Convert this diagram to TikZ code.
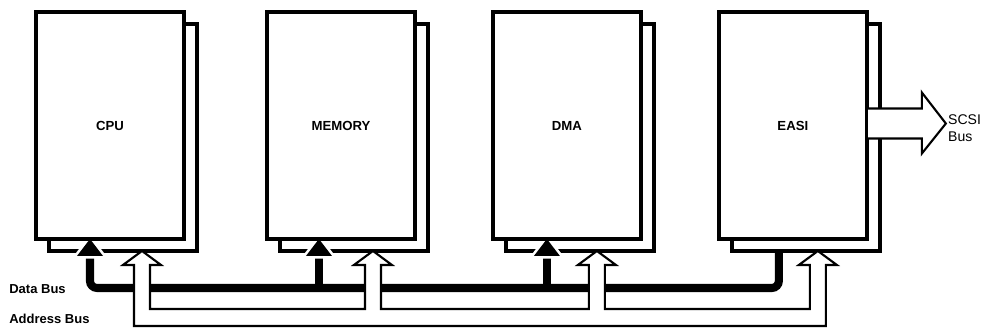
\documentclass[tikz,border=0pt]{standalone}
\usepackage{fontspec}
\setmainfont{Liberation Sans}
\usetikzlibrary{positioning,calc}

\begin{document}
\begin{tikzpicture}[
  x=0.02cm, y=-0.02cm,
  node distance=1.56cm,
  unit/.style={rectangle, draw, fill=white, line width=1.9pt, minimum width=2.96cm, minimum height=4.54cm, inner sep=0pt, outer sep=0pt, font=\fontsize{7.5}{9}\selectfont\bfseries},
  databus/.style={line width=4.6pt, rounded corners=4pt},
  dhead/.style={fill=black, preaction={draw=white, line width=3pt}},
  addrbus/.style={draw, fill=white, line width=1.2pt, line join=miter},
  buslabel/.style={anchor=west, inner sep=0pt, font=\fontsize{7.4}{9}\selectfont\bfseries},
  scsilabel/.style={anchor=west, inner sep=0pt, align=left, font=\fontsize{8}{9.6}\selectfont}
]
  \useasboundingbox (0,0) rectangle (981,328);

  % rear boards
  \node[unit] (cpuB) at (123,137.5) {};
  \node[unit, right=1.66cm of cpuB] (memB) {};
  \node[unit, right=of memB] (dmaB) {};
  \node[unit, right=of dmaB] (easiB) {};

  % bus taps
  \coordinate (d1) at ($(cpuB.south)+(-33,-12)$);
  \coordinate (d2) at ($(memB.south)+(-35,-12)$);
  \coordinate (d3) at ($(dmaB.south)+(-33,-12)$);
  \coordinate (d4) at ($(easiB.south)+(-27,0)$);
  \coordinate (a1) at ($(cpuB.south)+(19,0)$);
  \coordinate (a2) at ($(memB.south)+(19,0)$);
  \coordinate (a3) at ($(dmaB.south)+(17,0)$);
  \coordinate (a4) at ($(easiB.south)+(12,0)$);

  % data bus
  \draw[databus] ($(d1)+(0,16)$) |- ($(d4)+(0,37)$) -- (d4);
  \draw[databus] ($(d2)+(0,16)$) -- ++(0,34);
  \draw[databus] ($(d3)+(0,16)$) -- ++(0,34);
  \fill[dhead] (d1) -- ++(-13,17) -- ++(26,0) -- cycle;
  \fill[dhead] (d2) -- ++(-13,17) -- ++(26,0) -- cycle;
  \fill[dhead] (d3) -- ++(-13,17) -- ++(26,0) -- cycle;

  % front boards
  \node[unit] (cpu) at ($(cpuB)+(-13,-12)$) {CPU};
  \node[unit] (mem) at ($(memB)+(-13,-12)$) {MEMORY};
  \node[unit] (dma) at ($(dmaB)+(-13,-12)$) {DMA};
  \node[unit] (easi) at ($(easiB)+(-13,-12)$) {EASI};

  % address bus
  \draw[addrbus] ($(a1)+(-8,14)$) -- ++(0,61) -| ($(a4)+(8,14)$)
    -- ++(11,0) -- (a4) -- ++(-19,14) -- ++(11,0) -- ++(0,44)
    -| ($(a3)+(8,14)$) -- ++(11,0) -- (a3) -- ++(-19,14) -- ++(11,0) -- ++(0,44)
    -| ($(a2)+(8,14)$) -- ++(11,0) -- (a2) -- ++(-19,14) -- ++(11,0) -- ++(0,44)
    -| ($(a1)+(8,14)$) -- ++(11,0) -- (a1) -- ++(-19,14) -- cycle;

  % SCSI bus
  \coordinate (scsitip) at ($(easi.east)+(79,-2)$);
  \draw[addrbus] ($(easi.east)+(0,-17)$) -- ++(55,0) -- ++(0,-16) -- (scsitip)
    -- ++(-24,30) -- ++(0,-15) -- ++(-55,0) -- cycle;
  \node[scsilabel] (scsi) at ($(scsitip)+(2,4.5)$) {SCSI\\Bus};

  \node[buslabel] (dlab) at (9,289) {Data Bus};
  \node[buslabel] (alab) at (9,319) {Address Bus};
\end{tikzpicture}
\end{document}
